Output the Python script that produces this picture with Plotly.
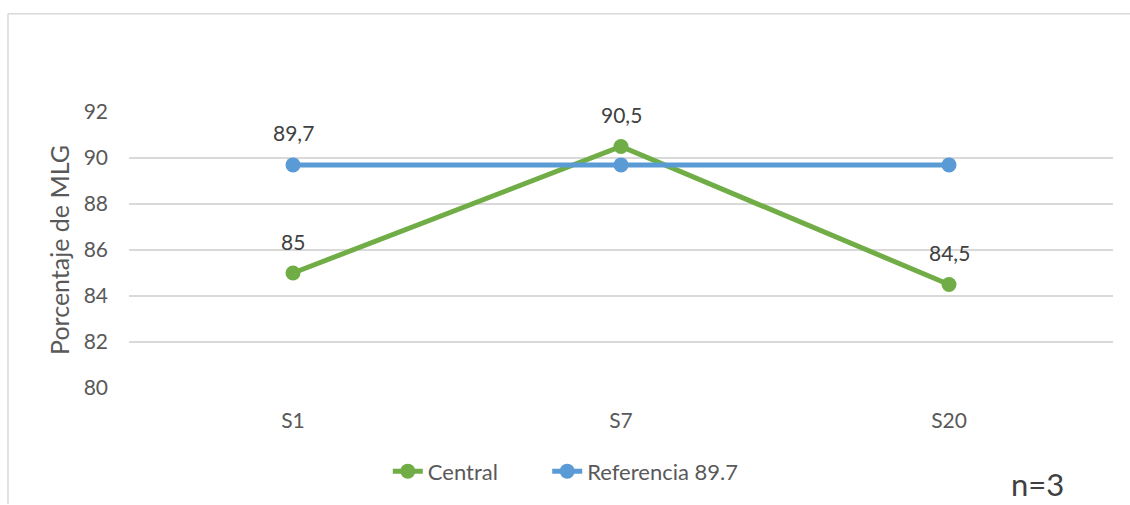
import plotly.graph_objects as go

categories = ["S1", "S7", "S20"]
central = [85, 90.5, 84.5]
referencia = [89.7, 89.7, 89.7]
central_labels = ["85", "90,5", "84,5"]
ref_labels = ["89,7", "", ""]
y_ticks = [80, 82, 84, 86, 88, 90, 92]

GREEN = "#70AD47"
BLUE = "#5B9BD5"
TXT = "#595959"
FONT = "Lato"

fig = go.Figure()
fig.add_trace(go.Scatter(x=categories, y=central, mode="lines+markers", name="Central",
                         line=dict(color=GREEN, width=5), marker=dict(color=GREEN, size=15),
                         legend="legend"))
fig.add_trace(go.Scatter(x=categories, y=referencia, mode="lines+markers", name="Referencia 89.7",
                         line=dict(color=BLUE, width=5), marker=dict(color=BLUE, size=15),
                         legend="legend2"))

for xs, ys, labs in [(categories, central, central_labels), (categories, referencia, ref_labels)]:
    for xv, yv, lab in zip(xs, ys, labs):
        if lab:
            fig.add_annotation(x=xv, y=yv, text=lab, showarrow=False, yshift=32,
                               font=dict(family=FONT, size=21, color="#404040"))

fig.add_annotation(xref="paper", yref="paper", x=0.923, y=-0.349, text="n=3", showarrow=False,
                   font=dict(family=FONT, size=31, color="#404040"), xanchor="center", yanchor="middle")

# chart border (top and left)
fig.add_shape(type="line", xref="paper", yref="paper", x0=-0.123, x1=1.03, y0=1.356, y1=1.356,
              line=dict(color="#D9D9D9", width=1.5))
fig.add_shape(type="line", xref="paper", yref="paper", x0=-0.123, x1=-0.123, y0=1.356, y1=-0.42,
              line=dict(color="#D9D9D9", width=1.5))

leg_common = dict(orientation="h", yanchor="middle", xanchor="left", y=-0.302,
                  font=dict(family=FONT, size=22, color=TXT), itemwidth=30,
                  bgcolor="rgba(0,0,0,0)")

fig.update_layout(
    width=1130, height=505,
    margin=dict(l=129, r=17, t=112, b=115),
    paper_bgcolor="white", plot_bgcolor="white",
    font=dict(family=FONT, color=TXT),
    showlegend=True,
    legend=dict(x=0.263, **leg_common),
    legend2=dict(x=0.425, **leg_common),
    xaxis=dict(type="category", range=[-0.5, 2.5], showgrid=False, zeroline=False, showline=False,
               tickfont=dict(family=FONT, size=21, color=TXT), ticks="", ticklabelstandoff=18),
    yaxis=dict(range=[80, 92], tickvals=y_ticks, showgrid=True, gridcolor="#D9D9D9", gridwidth=1.5,
               zeroline=False, showline=False, ticks="", ticklabelstandoff=20,
               tickfont=dict(family=FONT, size=21, color=TXT),
               title=dict(text="Porcentaje de MLG", font=dict(family=FONT, size=25, color=TXT), standoff=6)),
)

fig.write_html("out.html")
